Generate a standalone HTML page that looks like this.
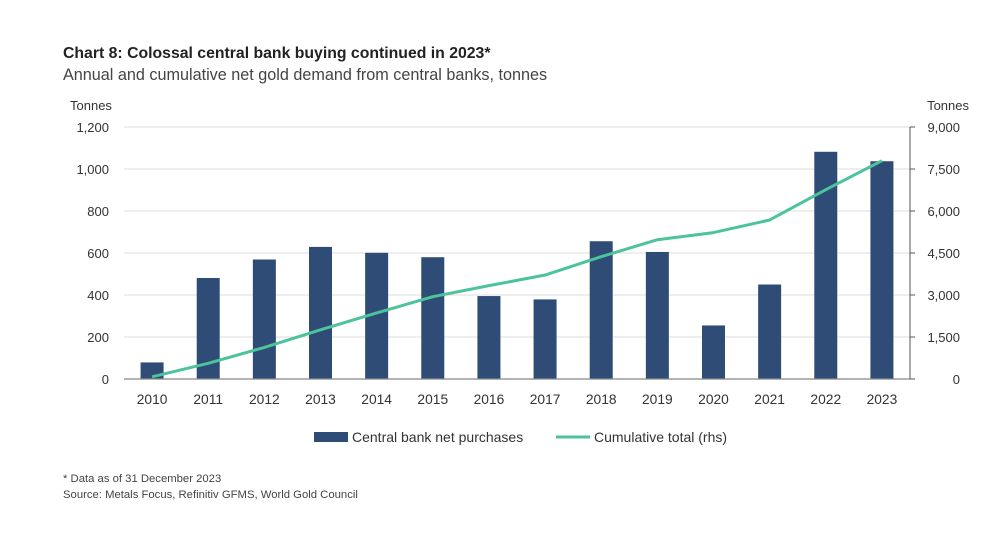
<!DOCTYPE html>
<html><head><meta charset="utf-8"><style>
body{margin:0;background:#fff;font-family:"Liberation Sans",sans-serif;}
svg text{font-family:"Liberation Sans",sans-serif;}
</style></head><body>
<svg width="1000" height="534" xmlns="http://www.w3.org/2000/svg">
<text x="63" y="58" font-size="15.8" font-weight="bold" fill="#222">Chart 8: Colossal central bank buying continued in 2023*</text>
<text x="63" y="80" font-size="16.2" fill="#444">Annual and cumulative net gold demand from central banks, tonnes</text>
<text x="70" y="110" font-size="13" fill="#333">Tonnes</text>
<text x="969" y="110" font-size="13" fill="#333" text-anchor="end">Tonnes</text>
<g id="grid"></g><g id="bars"></g><g id="axes"></g><g id="line"></g>
<g>
<rect x="314" y="432" width="34" height="10" fill="#2e4c75"/>
<text x="352" y="442" font-size="14" fill="#333">Central bank net purchases</text>
<line x1="556" y1="437" x2="590" y2="437" stroke="#4cc39a" stroke-width="3"/>
<text x="594" y="442" font-size="14" fill="#333">Cumulative total (rhs)</text>
</g>
<text x="63" y="482" font-size="11.3" fill="#444">* Data as of 31 December 2023</text>
<text x="63" y="498" font-size="11.3" fill="#444">Source: Metals Focus, Refinitiv GFMS, World Gold Council</text>
</svg>
<script>
const years=["2010","2011","2012","2013","2014","2015","2016","2017","2018","2019","2020","2021","2022","2023"];
const purchases=[79,481,569,629,601,580,395,379,656,605,255,450,1082,1037];
const cumulative=[79,560,1129,1758,2359,2939,3334,3713,4369,4974,5229,5679,6761,7798];
const leftTicks=[0,200,400,600,800,1000,1200];
const rightTicks=[0,1500,3000,4500,6000,7500,9000];
const NS="http://www.w3.org/2000/svg";
const x0=124,x1=910,yB=379,yT=127;
const yL=v=>yB-(v/1200)*(yB-yT);
const yR=v=>yB-(v/9000)*(yB-yT);
const step=(x1-x0)/years.length;
const xC=i=>x0+step*(i+0.5);
function mk(t,a,p){const e=document.createElementNS(NS,t);for(const k in a)e.setAttribute(k,a[k]);document.getElementById(p).appendChild(e);return e;}
leftTicks.forEach((v,i)=>{
 if(v>0){const g=mk("line",{x1:x0,x2:x1,y1:yL(v),y2:yL(v),stroke:"#ddd","stroke-width":1},"grid");
 
 }
 const t=mk("text",{x:109,y:yL(v)+5,"font-size":13,fill:"#333","text-anchor":"end"},"axes");t.textContent=v.toLocaleString("en-US");
 
 
});
rightTicks.forEach(v=>{
 const tk=mk("line",{x1:x1,x2:x1+5,y1:yR(v),y2:yR(v),stroke:"#555"},"axes");
 
 
 const t=mk("text",{x:960,y:yR(v)+5,"font-size":13,fill:"#333","text-anchor":"end"},"axes");t.textContent=v.toLocaleString("en-US");
 
 
});
years.forEach((y,i)=>{
 const b=mk("rect",{x:xC(i)-11.5,y:yL(purchases[i]),width:23,height:yB-yL(purchases[i]),fill:"#2e4c75"},"bars");
 
 
 const t=mk("text",{x:xC(i),y:404,"font-size":13.8,fill:"#333","text-anchor":"middle"},"axes");t.textContent=y;
 
 
});
const ax=mk("line",{x1:x0,x2:x1,y1:yB,y2:yB,stroke:"#888","stroke-width":1.2},"axes");


const ra=mk("line",{x1:x1,x2:x1,y1:yT,y2:yB,stroke:"#555","stroke-width":1},"axes");


const pl=mk("polyline",{points:cumulative.map((v,i)=>xC(i)+","+yR(v)).join(" "),fill:"none",stroke:"#4cc39a","stroke-width":3,"stroke-linejoin":"round"},"line");


</script>
</body></html>
